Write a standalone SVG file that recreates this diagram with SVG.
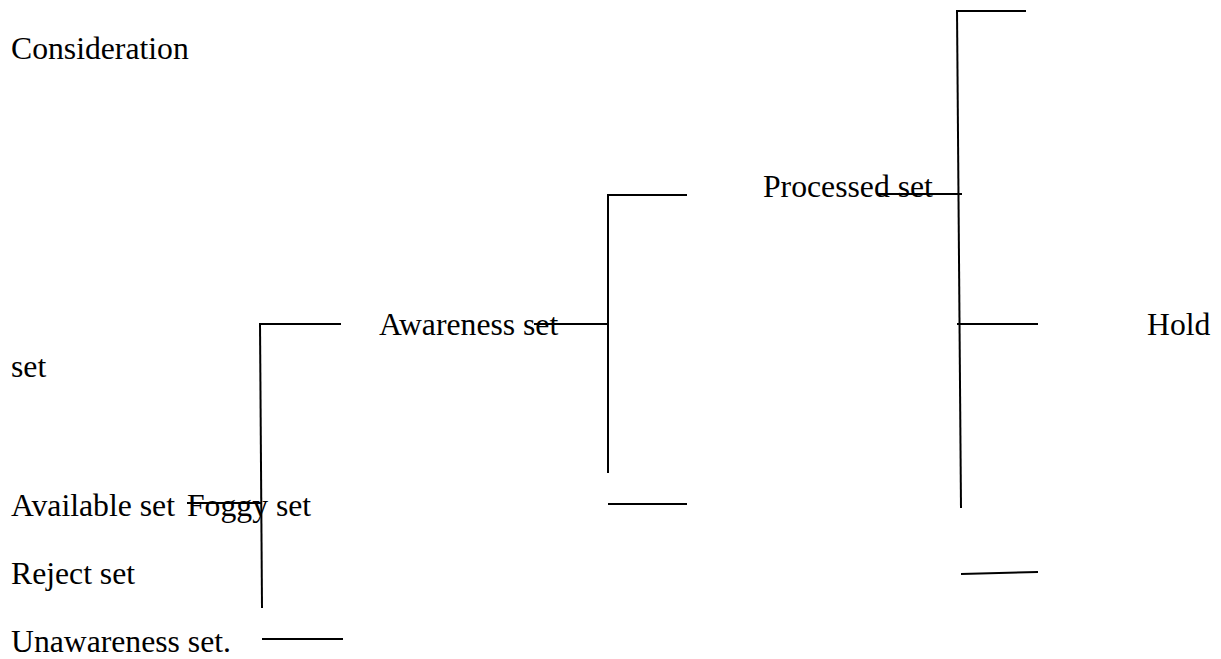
<svg xmlns="http://www.w3.org/2000/svg" width="1221" height="659" viewBox="0 0 1221 659">
<style>
.t{font-family:"Liberation Serif","Times New Roman",serif;font-size:31.7px;fill:#000}
.c line{stroke:#000;stroke-width:2;fill:none}
</style>
<rect width="1221" height="659" fill="#fff"/>
<g id="labels">
<g id="consideration"><text class="t" x="11" y="59">Consideration</text><text class="t" x="11" y="377">set</text></g>
<g id="processed"><text class="t" x="763" y="197">Processed set</text></g>
<g id="awareness"><text class="t" x="379" y="335">Awareness set</text></g>
<g id="hold"><text class="t" x="1147" y="335">Hold</text></g>
<g id="available"><text class="t" x="11" y="516">Available set</text></g>
<g id="foggy"><text class="t" x="187" y="516">Foggy set</text></g>
<g id="reject"><text class="t" x="11" y="584">Reject set</text></g>
<g id="unawareness"><text class="t" x="11" y="652">Unawareness set.</text></g>
</g>
<g id="connectors" class="c">
<line x1="260" y1="324" x2="341" y2="324"/>
<line x1="260" y1="323" x2="262" y2="608"/>
<line x1="262" y1="639" x2="343" y2="639"/>
<line x1="187" y1="503" x2="261" y2="503"/>
<line x1="534" y1="324" x2="608" y2="324"/>
<line x1="608" y1="195" x2="687" y2="195"/>
<line x1="608" y1="194" x2="608" y2="473"/>
<line x1="608" y1="504" x2="687" y2="504"/>
<line x1="957" y1="11" x2="1026" y2="11"/>
<line x1="957" y1="10" x2="961" y2="508"/>
<line x1="877" y1="194" x2="962" y2="194"/>
<line x1="957" y1="324" x2="1038" y2="324"/>
<line x1="961" y1="574" x2="1038" y2="572"/>
</g>
</svg>
